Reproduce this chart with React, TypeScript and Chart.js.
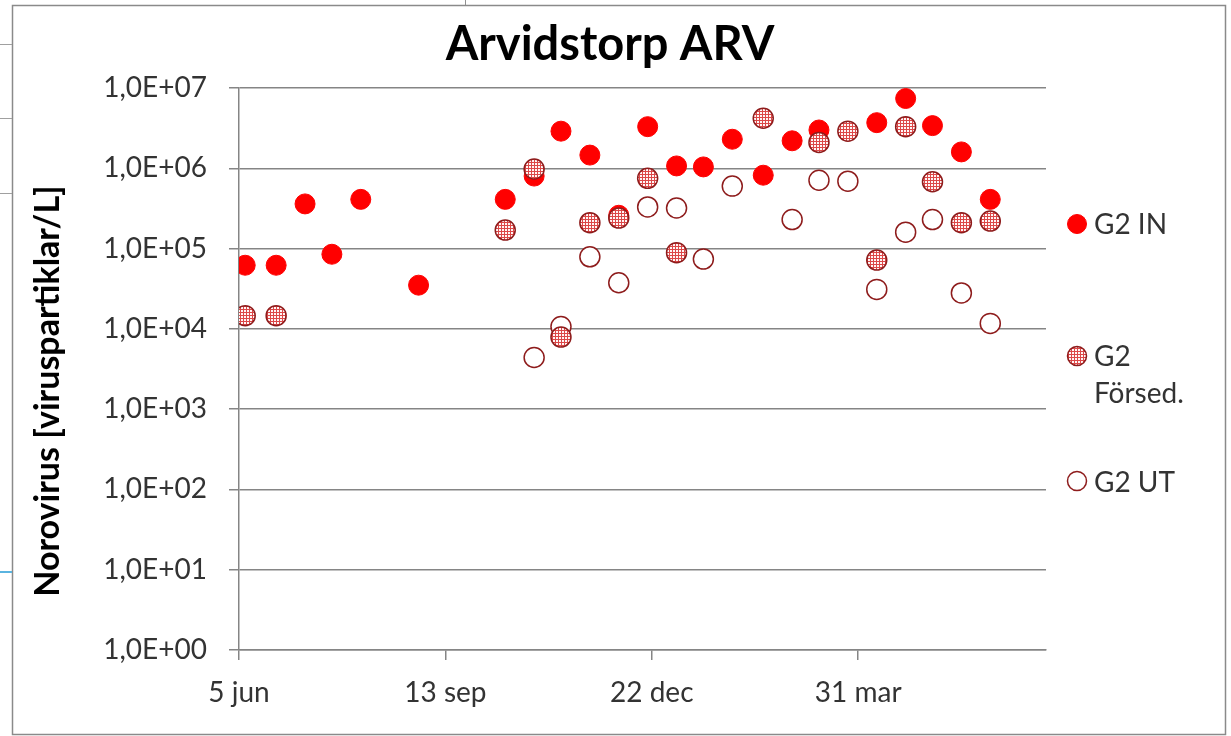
import React, { useEffect, useRef } from "react";
import { Chart, registerables } from "chart.js";

Chart.register(...registerables);

// Sampling dates, in days after 5 jun
const sampleDays = [3, 18, 32, 45, 59, 87, 129, 143, 156, 170, 184, 198, 212, 225, 239, 254, 268, 281, 295, 309, 323, 336, 350, 364];

const g2In = [6.2e4, 6.2e4, 3.6e5, 8.5e4, 4.1e5, 3.5e4, 4.1e5, 8.0e5, 2.9e6, 1.46e6, 2.6e5, 3.3e6, 1.07e6, 1.04e6, 2.3e6, 8.2e5, 2.2e6, 3.0e6, null, 3.7e6, 7.4e6, 3.4e6, 1.6e6, 4.1e5];
const g2Forsed = [1.46e4, 1.46e4, null, null, null, null, 1.7e5, 9.8e5, 7.9e3, 2.1e5, 2.4e5, 7.5e5, 8.9e4, null, null, 4.2e6, null, 2.1e6, 2.9e6, 7.2e4, 3.3e6, 6.8e5, 2.1e5, 2.2e5];
const g2Ut = [null, null, null, null, null, null, null, 4.4e3, 1.07e4, 7.9e4, 3.75e4, 3.3e5, 3.2e5, 7.4e4, 6.0e5, null, 2.3e5, 7.1e5, 6.9e5, 3.1e4, 1.6e5, 2.3e5, 2.8e4, 1.17e4];

const xTickDays = [0, 100, 200, 300];
const xTickLabels = ["5 jun", "13 sep", "22 dec", "31 mar"];
const yTickValues = [1, 10, 100, 1e3, 1e4, 1e5, 1e6, 1e7];
const yTickLabels = ["1,0E+00", "1,0E+01", "1,0E+02", "1,0E+03", "1,0E+04", "1,0E+05", "1,0E+06", "1,0E+07"];

const chartTitle = "Arvidstorp ARV";
const yAxisTitle = "Norovirus [viruspartiklar/L]";
const seriesNames = ["G2 IN", "G2 Försed.", "G2 UT"];

const FONT = "Lato, 'Open Sans', sans-serif";
const RED = "#ff0000";
const DARKRED = "#8e1c1c";
const GRID = "#858585";

function toPoints(values: (number | null)[]) {
  const pts: { x: number; y: number }[] = [];
  values.forEach((v, i) => {
    if (v !== null) pts.push({ x: sampleDays[i], y: v });
  });
  return pts;
}

function makePattern(): CanvasPattern | string {
  const c = document.createElement("canvas");
  c.width = 3;
  c.height = 3;
  const p = c.getContext("2d");
  if (!p) return "#e07070";
  p.fillStyle = "#dc4848";
  p.fillRect(0, 0, 3, 3);
  p.fillStyle = "#fff6f6";
  p.fillRect(1, 1, 2, 2);
  const main = document.createElement("canvas").getContext("2d");
  const pat = main ? main.createPattern(c, "repeat") : null;
  return pat || "#e07070";
}

export default function App() {
  const ref = useRef<HTMLCanvasElement | null>(null);

  useEffect(() => {
    if (!ref.current) return;
    const pattern = makePattern();

    const drawMarker = (ctx: CanvasRenderingContext2D, kind: number, x: number, y: number, r: number) => {
      ctx.beginPath();
      ctx.arc(x, y, r, 0, Math.PI * 2);
      if (kind === 0) {
        ctx.fillStyle = RED;
        ctx.fill();
        ctx.strokeStyle = RED;
        ctx.lineWidth = 1;
        ctx.stroke();
      } else if (kind === 1) {
        ctx.fillStyle = pattern as any;
        ctx.fill();
        ctx.strokeStyle = DARKRED;
        ctx.lineWidth = 1.5;
        ctx.stroke();
      } else {
        ctx.fillStyle = "#ffffff";
        ctx.fill();
        ctx.strokeStyle = DARKRED;
        ctx.lineWidth = 1.5;
        ctx.stroke();
      }
    };

    const decor = {
      id: "decor",
      afterDraw(chart: any) {
        const ctx: CanvasRenderingContext2D = chart.ctx;
        ctx.save();
        // outer frame
        ctx.strokeStyle = "#8a8a8a";
        ctx.lineWidth = 1.5;
        ctx.strokeRect(12.5, 5.5, 1213, 729);
        // stray page lines at left
        ctx.strokeStyle = "#a0a0a0";
        ctx.lineWidth = 1;
        [44, 118, 193].forEach((yy) => {
          ctx.beginPath();
          ctx.moveTo(0, yy + 0.5);
          ctx.lineTo(12, yy + 0.5);
          ctx.stroke();
        });
        ctx.strokeStyle = "#5ab4e0";
        ctx.lineWidth = 2;
        ctx.beginPath();
        ctx.moveTo(0, 572);
        ctx.lineTo(12, 572);
        ctx.stroke();
        ctx.strokeStyle = "#909090";
        ctx.lineWidth = 1;
        ctx.beginPath();
        ctx.moveTo(465.5, 0);
        ctx.lineTo(465.5, 5);
        ctx.stroke();

        // title
        ctx.fillStyle = "#000";
        ctx.font = `bold 47px ${FONT}`;
        ctx.textAlign = "center";
        ctx.textBaseline = "alphabetic";
        ctx.fillText(chartTitle, 610, 60);

        // y title
        ctx.save();
        ctx.translate(59, 391);
        ctx.rotate(-Math.PI / 2);
        ctx.font = `bold 34px ${FONT}`;
        ctx.fillText(yAxisTitle, 0, 0);
        ctx.restore();

        // legend
        ctx.textAlign = "left";
        ctx.font = `28px ${FONT}`;
        ctx.fillStyle = "#333";
        drawMarker(ctx, 0, 1077, 224, 9.5);
        ctx.fillStyle = "#333";
        ctx.fillText(seriesNames[0], 1094, 234);
        drawMarker(ctx, 1, 1077, 356, 9.5);
        ctx.fillStyle = "#333";
        const parts = seriesNames[1].split(" ");
        ctx.fillText(parts[0], 1094, 366);
        ctx.fillText(parts[1], 1094, 403);
        drawMarker(ctx, 2, 1077, 481, 9.5);
        ctx.fillStyle = "#333";
        ctx.fillText(seriesNames[2], 1094, 492);
        ctx.restore();
      },
    };

    const chart = new Chart(ref.current, {
      type: "scatter",
      data: {
        datasets: [
          {
            label: seriesNames[1],
            data: toPoints(g2Forsed),
            pointRadius: 10,
            pointBackgroundColor: pattern as any,
            pointBorderColor: DARKRED,
            pointBorderWidth: 1.5,
            order: 0,
          },
          {
            label: seriesNames[0],
            data: toPoints(g2In),
            pointRadius: 10,
            pointBackgroundColor: RED,
            pointBorderColor: RED,
            pointBorderWidth: 1,
            order: 1,
          },
          {
            label: seriesNames[2],
            data: toPoints(g2Ut),
            pointRadius: 10,
            pointBackgroundColor: "#ffffff",
            pointBorderColor: DARKRED,
            pointBorderWidth: 1.5,
            order: 2,
          },
        ],
      },
      options: {
        animation: false,
        responsive: true,
        maintainAspectRatio: false,
        layout: { padding: { left: 0, right: 185, top: 88, bottom: 0 } },
        plugins: {
          legend: { display: false },
          tooltip: { enabled: false },
          title: { display: false },
        },
        scales: {
          x: {
            type: "linear",
            min: 0,
            max: 391,
            afterFit: (s: any) => {
              s.height = 86;
            },
            afterBuildTicks: (s: any) => {
              s.ticks = xTickDays.map((v) => ({ value: v }));
            },
            ticks: {
              autoSkip: false,
              maxRotation: 0,
              padding: 16,
              color: "#333",
              font: { family: FONT, size: 28 },
              callback: (_v: any, i: number) => xTickLabels[i],
            },
            grid: {
              drawOnChartArea: false,
              drawTicks: true,
              tickLength: 10,
              color: GRID,
              lineWidth: 1.5,
            },
            border: { display: true, color: GRID, width: 1.5 },
          },
          y: {
            type: "logarithmic",
            min: 1,
            max: 1e7,
            afterFit: (s: any) => {
              s.width = 239;
            },
            afterBuildTicks: (s: any) => {
              s.ticks = yTickValues.map((v) => ({ value: v }));
            },
            ticks: {
              autoSkip: false,
              padding: 22,
              color: "#333",
              font: { family: FONT, size: 28 },
              callback: (_v: any, i: number) => yTickLabels[i],
            },
            grid: {
              drawOnChartArea: true,
              drawTicks: true,
              tickLength: 10,
              color: GRID,
              lineWidth: 1.5,
            },
            border: { display: true, color: GRID, width: 1.5 },
          },
        },
      },
      plugins: [decor],
    });

    return () => chart.destroy();
  }, []);

  return (
    <div style={{ position: "fixed", left: 0, top: 0, width: 1231, height: 736, background: "#fff" }}>
      <canvas ref={ref} />
    </div>
  );
}
